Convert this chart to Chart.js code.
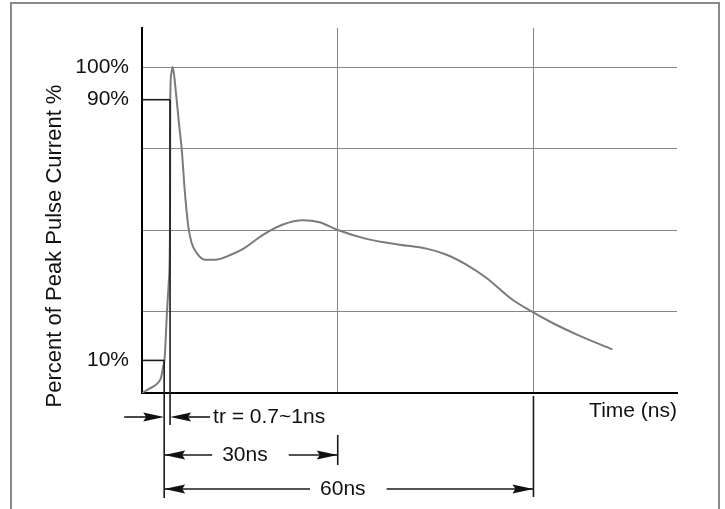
<!DOCTYPE html>
<html>
<head>
<meta charset="utf-8">
<title>ESD Pulse Waveform</title>
<script src="https://cdn.jsdelivr.net/npm/chart.js@4.4.1/dist/chart.umd.min.js"></script>
<style>
  html, body { margin: 0; padding: 0; background: #fff; }
  #wrap { width: 725px; height: 509px; position: relative; }
</style>
</head>
<body>
<div id="wrap"><canvas id="pulseChart"></canvas></div>
<script>
// waveform (time in ns, current in % of peak)
const timeNs = [0, 1.2, 2.3, 2.9, 3.3, 3.45, 3.83, 4.13, 4.29, 4.33, 4.5, 4.7, 5.2, 5.71, 6.08, 6.58, 7.09, 7.61, 8.37, 9.64,
    11.2, 13.7, 15.5, 18.6, 21.6, 24.7, 27.2, 29.9, 34.4, 39.5, 43.6, 46.6, 49.7, 52.8, 56.8, 59.9, 63, 67, 72.1];
const currentPct = [0, 1.4, 2.8, 4.6, 8.6, 10, 25, 34.8, 50, 90, 98, 100, 92.2, 81.9, 75, 61.4, 51.2, 46, 43, 40.9,
    40.9, 42.5, 44.2, 48.6, 51.7, 53, 52.4, 50.1, 47.3, 45.5, 44.3, 42.5, 39.4, 35.3, 28.6, 24.8, 21.4, 17.6, 13.4];

// axis ticks
const yTicks = [0, 10, 25, 50, 75, 90, 100];
const yLabelled = [10, 90, 100];
const yGridded = [25, 50, 75, 100];
const xTicks = [30, 60];

// markers used by the dimension lines
const t10 = 3.4;   // 10% point
const t90 = 4.3;   // 90% point
const dimLabels = { tr: 'tr = 0.7~1ns', d30: '30ns', d60: '60ns' };

const FONT = "'Liberation Sans', Arial, sans-serif";

function arrowHead(ctx, tipX, y, dir) {
    ctx.beginPath();
    ctx.moveTo(tipX, y);
    ctx.lineTo(tipX - dir * 21, y - 4.5);
    ctx.lineTo(tipX - dir * 18, y);
    ctx.lineTo(tipX - dir * 21, y + 4.5);
    ctx.closePath();
    ctx.fill();
}

function line(ctx, x1, y1, x2, y2) {
    ctx.beginPath();
    ctx.moveTo(x1, y1);
    ctx.lineTo(x2, y2);
    ctx.stroke();
}

// dimension with text in the middle and arrows pointing outwards
function spanDim(ctx, x1, x2, y, text) {
    const w = ctx.measureText(text).width;
    const c = (x1 + x2) / 2 - 6;
    line(ctx, x1, y, c - w / 2 - 10, y);
    line(ctx, c + w / 2 + 21, y, x2, y);
    arrowHead(ctx, x1, y, -1);
    arrowHead(ctx, x2, y, 1);
    ctx.fillText(text, c, y);
}

const annotations = {
    id: 'annotations',
    beforeDraw(chart) {
        const ctx = chart.ctx;
        ctx.save();
        ctx.fillStyle = '#fff';
        ctx.fillRect(0, 0, chart.width, chart.height);
        ctx.strokeStyle = '#8a8a8a';
        ctx.lineWidth = 2;
        ctx.strokeRect(11, 3, 708, 540);
        ctx.restore();
    },
    afterDraw(chart) {
        const ctx = chart.ctx;
        const xs = chart.scales.x, ys = chart.scales.y;
        const px = v => xs.getPixelForValue(v);
        const py = v => ys.getPixelForValue(v);
        const base = ys.bottom;

        ctx.save();
        ctx.strokeStyle = '#1a1a1a';
        ctx.fillStyle = '#111';
        ctx.lineWidth = 1.6;

        // 10% and 90% levels
        line(ctx, xs.left, py(10), px(t10), py(10));
        line(ctx, xs.left, py(90), px(t90), py(90));

        // extension lines
        line(ctx, px(t10), py(10), px(t10), base + 105);
        line(ctx, px(t90), py(90), px(t90), base + 32);
        line(ctx, px(30), base + 42, px(30), base + 72);
        line(ctx, px(60), base + 3, px(60), base + 104);

        ctx.font = '21px ' + FONT;
        ctx.textBaseline = 'middle';

        // rise time
        const yTr = base + 24;
        line(ctx, px(t10) - 40, yTr, px(t10) - 10, yTr);
        arrowHead(ctx, px(t10), yTr, 1);
        line(ctx, px(t90) + 10, yTr, px(t90) + 40, yTr);
        arrowHead(ctx, px(t90), yTr, -1);
        ctx.textAlign = 'left';
        ctx.fillText(dimLabels.tr, px(t90) + 43, yTr);

        ctx.textAlign = 'center';
        spanDim(ctx, px(t10), px(30), base + 62, dimLabels.d30);
        spanDim(ctx, px(t10), px(60), base + 96, dimLabels.d60);

        // y axis title
        ctx.font = '22px ' + FONT;
        ctx.translate(55, 246);
        ctx.rotate(-Math.PI / 2);
        ctx.fillText('Percent of Peak Pulse Current %', 0, 0);
        ctx.restore();
    }
};

new Chart(document.getElementById('pulseChart'), {
    type: 'line',
    data: {
        datasets: [{
            data: timeNs.map((t, i) => ({ x: t, y: currentPct[i] })),
            borderColor: '#7b7b7b',
            borderWidth: 2,
            pointRadius: 0,
            cubicInterpolationMode: 'monotone',
            fill: false
        }]
    },
    options: {
        responsive: true,
        maintainAspectRatio: false,
        animation: false,
        devicePixelRatio: 1,
        layout: { padding: { top: 28, right: 48, left: 0, bottom: 0 } },
        plugins: { legend: { display: false }, tooltip: { enabled: false } },
        scales: {
            x: {
                type: 'linear',
                min: 0,
                max: 82,
                afterBuildTicks: s => { s.ticks = xTicks.map(v => ({ value: v })); },
                afterFit: s => { s.height = 116; },
                ticks: { display: false },
                grid: { color: '#858585', lineWidth: 1, drawTicks: false },
                border: { color: '#000', width: 2 },
                title: {
                    display: true,
                    text: 'Time (ns)',
                    align: 'end',
                    color: '#111',
                    font: { family: FONT, size: 21 },
                    padding: { top: 0, bottom: 85 }
                }
            },
            y: {
                min: 0,
                max: 112,
                afterBuildTicks: s => { s.ticks = yTicks.map(v => ({ value: v })); },
                afterFit: s => { s.width = 142; },
                ticks: {
                    color: '#111',
                    padding: 13,
                    font: { family: FONT, size: 21 },
                    callback: v => yLabelled.includes(v) ? v + '%' : ''
                },
                grid: {
                    drawTicks: false,
                    lineWidth: 1,
                    color: c => yGridded.includes(c.tick.value) ? '#858585' : 'rgba(0,0,0,0)'
                },
                border: { color: '#000', width: 2 }
            }
        }
    },
    plugins: [annotations]
});
</script>
</body>
</html>
